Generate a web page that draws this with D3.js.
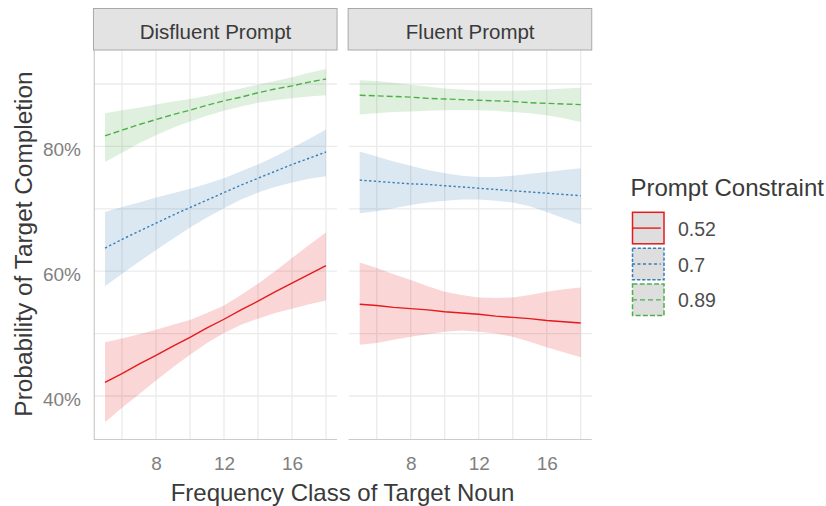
<!DOCTYPE html>
<html>
<head>
<meta charset="utf-8">
<script src="https://cdn.jsdelivr.net/npm/d3@7"></script>
<style>
  html, body { margin: 0; padding: 0; background: #ffffff; }
  svg { display: block; font-family: "Liberation Sans", Arial, sans-serif; }
</style>
</head>
<body>
<svg id="chart" width="826" height="506"></svg>
<script>
// ---------------- data ----------------
const panels = ["Disfluent Prompt", "Fluent Prompt"];
const constraints = ["0.52", "0.7", "0.89"];
const freqClass = [5, 6, 7, 8, 9, 10, 11, 12, 13, 14, 15, 16, 17, 18];
const xMajorTicks = [8, 12, 16];
const xMinorTicks = [6, 10, 14, 18];
const yMajorTicks = [40, 60, 80];
const yMinorTicks = [50, 70, 90];

// predicted probability (%) per constraint level (0.52, 0.7, 0.89)
const disfluentFit = [
  [42.2, 43.6, 45.1, 46.5, 48.0, 49.4, 50.9, 52.3, 53.8, 55.2, 56.7, 58.1, 59.5, 60.9],
  [63.7, 65.1, 66.4, 67.7, 69.0, 70.2, 71.4, 72.6, 73.8, 74.9, 76.0, 77.1, 78.1, 79.1],
  [81.7, 82.6, 83.5, 84.3, 85.1, 85.8, 86.6, 87.3, 87.9, 88.6, 89.2, 89.7, 90.3, 90.8]
];
const disfluentLower = [
  [35.8, 38.1, 40.3, 42.5, 44.6, 46.6, 48.5, 50.1, 51.4, 52.4, 53.3, 54.0, 54.7, 55.3],
  [57.6, 59.6, 61.5, 63.4, 65.2, 67.0, 68.6, 70.1, 71.5, 72.6, 73.5, 74.2, 74.8, 75.2],
  [77.5, 79.0, 80.5, 81.8, 83.0, 84.0, 84.9, 85.7, 86.4, 87.0, 87.4, 87.7, 88.0, 88.2]
];
const disfluentUpper = [
  [48.6, 49.2, 49.9, 50.6, 51.4, 52.2, 53.3, 54.5, 56.2, 58.0, 60.0, 62.1, 64.2, 66.2],
  [69.5, 70.3, 71.0, 71.8, 72.5, 73.2, 74.0, 74.9, 76.0, 77.1, 78.4, 79.8, 81.2, 82.7],
  [85.3, 85.8, 86.2, 86.7, 87.2, 87.6, 88.1, 88.7, 89.3, 89.9, 90.5, 91.1, 91.8, 92.4]
];
const fluentFit = [
  [54.7, 54.5, 54.2, 54.0, 53.8, 53.5, 53.3, 53.1, 52.8, 52.6, 52.4, 52.1, 51.9, 51.7],
  [74.6, 74.4, 74.2, 74.0, 73.9, 73.7, 73.5, 73.3, 73.1, 72.9, 72.7, 72.5, 72.3, 72.1],
  [88.2, 88.1, 88.0, 87.9, 87.7, 87.6, 87.5, 87.4, 87.3, 87.2, 87.0, 86.9, 86.8, 86.7]
];
const fluentLower = [
  [48.2, 48.5, 49.0, 49.5, 49.9, 50.3, 50.5, 50.3, 50.0, 49.5, 48.7, 47.8, 47.0, 46.2],
  [69.3, 69.6, 70.1, 70.6, 71.0, 71.3, 71.5, 71.5, 71.3, 71.0, 70.4, 69.5, 68.5, 67.5],
  [85.1, 85.3, 85.5, 85.6, 85.7, 85.8, 85.8, 85.8, 85.7, 85.5, 85.3, 85.0, 84.5, 83.9]
];
const fluentUpper = [
  [61.4, 60.5, 59.5, 58.6, 57.6, 56.7, 56.2, 55.8, 55.7, 55.8, 56.2, 56.7, 57.1, 57.4],
  [79.2, 78.4, 77.6, 76.9, 76.2, 75.7, 75.3, 75.1, 75.1, 75.3, 75.6, 75.9, 76.2, 76.5],
  [90.6, 90.5, 90.2, 89.9, 89.6, 89.3, 89.1, 88.9, 88.9, 88.9, 89.0, 89.1, 89.3, 89.4]
];

// ---------------- styling ----------------
const colors = ["#E41A1C", "#377EB8", "#4DAF4A"];
const dashes = [null, "2.3,2.4", "6,3"];
const keyDashes = [null, "3.3,1.8", "5,2.2"];
const keyLineDashes = [null, "3,2.5", "5,3"];

const svg = d3.select("#chart");
const panelData = [
  { name: panels[0], fit: disfluentFit, lo: disfluentLower, hi: disfluentUpper, range: [93.95, 337.05], leftAxis: true },
  { name: panels[1], fit: fluentFit, lo: fluentLower, hi: fluentUpper, range: [348.65, 591.75], leftAxis: false }
];
const y = d3.scaleLinear().domain([32.95, 95.45]).range([440, 50]);
const xDomain = [4.35, 18.65];

panelData.forEach(p => {
  const x = d3.scaleLinear().domain(xDomain).range(p.range);
  const g = svg.append("g");
  const [x0, x1] = p.range;

  // grid
  g.selectAll(".vg").data(xMinorTicks.concat(xMajorTicks)).join("line")
    .attr("x1", d => x(d)).attr("x2", d => x(d)).attr("y1", 50).attr("y2", 440)
    .attr("stroke", "#EBEBEB").attr("stroke-width", 1.3);
  g.selectAll(".hg").data(yMinorTicks.concat(yMajorTicks)).join("line")
    .attr("x1", x0).attr("x2", x1).attr("y1", d => y(d)).attr("y2", d => y(d))
    .attr("stroke", "#EBEBEB").attr("stroke-width", 1.3);

  // ribbons
  constraints.forEach((c, i) => {
    const area = d3.area()
      .x((d, j) => x(freqClass[j]))
      .y0((d, j) => y(p.lo[i][j]))
      .y1((d, j) => y(p.hi[i][j]));
    g.append("path").datum(freqClass).attr("d", area)
      .attr("fill", colors[i]).attr("fill-opacity", 0.18);
  });
  // lines
  constraints.forEach((c, i) => {
    const line = d3.line()
      .x((d, j) => x(freqClass[j]))
      .y((d, j) => y(p.fit[i][j]));
    g.append("path").datum(freqClass).attr("d", line)
      .attr("fill", "none").attr("stroke", colors[i]).attr("stroke-width", 1.4)
      .attr("stroke-dasharray", dashes[i]);
  });

  // axis lines
  g.append("line").attr("x1", x0).attr("x2", x1).attr("y1", 439.5).attr("y2", 439.5)
    .attr("stroke", "#CBCBCB").attr("stroke-width", 1.2);
  if (p.leftAxis) {
    g.append("line").attr("x1", x0 + 0.3).attr("x2", x0 + 0.3).attr("y1", 50).attr("y2", 440)
      .attr("stroke", "#CBCBCB").attr("stroke-width", 1.2);
  }

  // x axis ticks
  const xAxis = d3.axisBottom(x).tickValues(xMajorTicks).tickSize(0).tickPadding(17);
  const xa = svg.append("g").attr("transform", "translate(0,440)").call(xAxis);
  xa.select(".domain").remove();
  xa.selectAll("text").attr("font-size", 19).attr("fill", "#808080")
    .attr("font-family", "Liberation Sans, Arial, sans-serif");

  // y axis (first panel only)
  if (p.leftAxis) {
    const yAxis = d3.axisLeft(y).tickValues(yMajorTicks).tickSize(0).tickPadding(13)
      .tickFormat(d => d + "%");
    const ya = svg.append("g").attr("transform", `translate(${x0},0)`).call(yAxis);
    ya.select(".domain").remove();
    ya.selectAll("text").attr("font-size", 19).attr("fill", "#808080").attr("dy", "0.5em")
      .attr("font-family", "Liberation Sans, Arial, sans-serif");
  }

  // strip
  svg.append("rect").attr("x", x0 - 0.5).attr("y", 8.5).attr("width", x1 - x0 + 0.5).attr("height", 41.5)
    .attr("fill", "#E3E3E3").attr("stroke", "#A8A8A8").attr("stroke-width", 1);
  svg.append("text").attr("x", (x0 + x1) / 2).attr("y", 39.3).attr("text-anchor", "middle")
    .attr("font-size", 20.5).attr("fill", "#3A3A3A").text(p.name);
});

// axis titles
svg.append("text").attr("x", 342.5).attr("y", 500.7).attr("text-anchor", "middle")
  .attr("font-size", 24).attr("fill", "#3A3A3A").text("Frequency Class of Target Noun");
svg.append("text").attr("transform", "translate(32,244) rotate(-90)").attr("text-anchor", "middle")
  .attr("font-size", 24.4).attr("fill", "#3A3A3A").text("Probability of Target Completion");

// legend
const lg = svg.append("g");
lg.append("text").attr("x", 630.5).attr("y", 196).attr("font-size", 24).attr("fill", "#3A3A3A")
  .text("Prompt Constraint");
constraints.forEach((c, i) => {
  const ky = 212.3 + i * 35.9;
  lg.append("rect").attr("x", 632.5).attr("y", ky).attr("width", 31.5).attr("height", 31.5)
    .attr("fill", "#DEDEDE").attr("stroke", colors[i]).attr("stroke-width", 1.5)
    .attr("stroke-dasharray", keyDashes[i]);
  lg.append("line").attr("x1", 632).attr("x2", 660.7).attr("y1", ky + 15.8).attr("y2", ky + 15.8)
    .attr("stroke", colors[i]).attr("stroke-width", 1.4).attr("stroke-dasharray", keyLineDashes[i]);
  lg.append("text").attr("x", 678).attr("y", ky + 23.3).attr("font-size", 19.5).attr("fill", "#4D4D4D")
    .text(c);
});
</script>
</body>
</html>
